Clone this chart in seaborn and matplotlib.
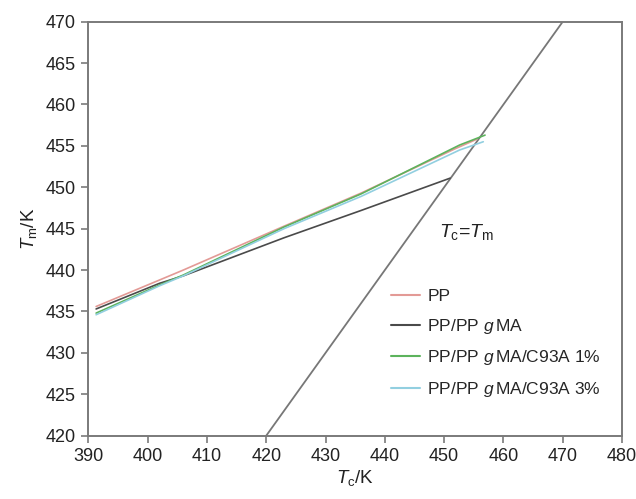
import matplotlib
matplotlib.use("Agg")
import matplotlib.pyplot as plt
import seaborn as sns
import pandas as pd

# Melting temperature vs. crystallization temperature (Hoffman–Weeks plot)
series_names = ["PP", "PP/PP $g\\,$MA", "PP/PP $g\\,$MA/C93A 1%", "PP/PP $g\\,$MA/C93A 3%"]

tc_pp = [391.3, 402.0, 406.0, 423.0, 436.0, 452.0, 455.5]
tm_pp = [435.6, 438.8, 440.0, 445.3, 449.3, 454.7, 455.8]

tc_ppg = [391.3, 402.0, 406.0, 423.0, 436.0, 451.0]
tm_ppg = [435.3, 438.4, 439.3, 443.9, 447.2, 451.1]

tc_c1 = [391.3, 402.0, 406.0, 423.0, 436.0, 452.6, 456.9]
tm_c1 = [434.8, 438.2, 439.4, 445.2, 449.2, 455.1, 456.3]

tc_c3 = [391.3, 402.0, 406.0, 423.0, 436.0, 452.6, 456.6]
tm_c3 = [434.6, 438.1, 439.3, 445.0, 448.9, 454.5, 455.5]

# Equilibrium line Tc = Tm
tc_eq = [420.0, 470.0]
tm_eq = [420.0, 470.0]

colors = ["#e39a96", "#4a4a4a", "#5cb35c", "#92cfe0"]

frames = []
for name, xs, ys in zip(series_names,
                        [tc_pp, tc_ppg, tc_c1, tc_c3],
                        [tm_pp, tm_ppg, tm_c1, tm_c3]):
    frames.append(pd.DataFrame({"Tc": xs, "Tm": ys, "sample": name}))
df = pd.concat(frames, ignore_index=True)

sns.set_style("white")
plt.rcParams["font.family"] = ["Liberation Sans", "DejaVu Sans"]
plt.rcParams["mathtext.fontset"] = "custom"
plt.rcParams["mathtext.rm"] = "Liberation Sans"
plt.rcParams["mathtext.it"] = "Liberation Sans:italic"

fig = plt.figure(figsize=(6.36, 4.99), dpi=100)
ax = fig.add_axes([0.139, 0.127, 0.839, 0.8295])

ax.plot(tc_eq, tm_eq, color="#777777", lw=1.3, zorder=1)

sns.lineplot(data=df, x="Tc", y="Tm", hue="sample", palette=colors,
             sort=False, estimator=None, lw=1.2, ax=ax, zorder=2)

ax.set_xlim(390, 480)
ax.set_ylim(420, 470)
ax.set_xticks(range(390, 481, 10))
ax.set_yticks(range(420, 471, 5))

spine_col = "#7a7a7a"
for s in ax.spines.values():
    s.set_color(spine_col)
    s.set_linewidth(1.4)
ax.tick_params(axis="both", direction="out", length=5, width=1.2,
               color=spine_col, labelsize=13, labelcolor="#222222", pad=4)
ax.tick_params(top=False, right=False, bottom=True, left=True)

ax.set_xlabel(r"$T_\mathrm{c}$/K", fontsize=13.5, color="#222222", labelpad=2)
ax.set_ylabel(r"$T_\mathrm{m}$/K", fontsize=13.5, color="#222222", labelpad=5)

# Annotation next to the equilibrium line
ax.text(449.2, 444.6, r"$T_\mathrm{c}$=$T_\mathrm{m}$",
        fontsize=14, color="#222222", va="center", ha="left")

leg = ax.legend(title=None, frameon=False, fontsize=12.5,
                loc="upper left",
                bbox_to_anchor=((384 - 88.5) / 533.5, 1 - (282 - 21.7) / 413.8),
                handlelength=1.7, handletextpad=0.4, labelspacing=0.72,
                borderaxespad=0)
for line in leg.get_lines():
    line.set_linewidth(1.5)

fig.savefig("out.png", dpi=100)
